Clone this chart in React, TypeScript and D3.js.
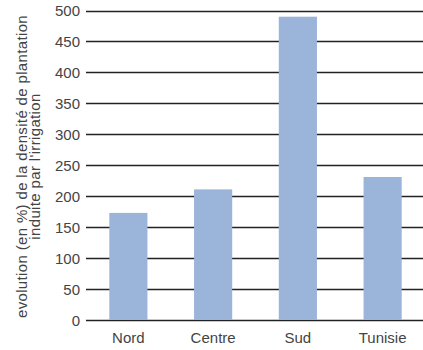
import React, { useEffect, useRef } from "react";
import * as d3 from "d3";

const regions = ["Nord", "Centre", "Sud", "Tunisie"];
const densityGain = [173, 211, 490, 231];
const yTicks = [0, 50, 100, 150, 200, 250, 300, 350, 400, 450, 500];
const titleLines = [
  "evolution (en %) de la densité de plantation",
  "induite par l'irrigation",
];

export default function App() {
  const ref = useRef<SVGSVGElement | null>(null);

  useEffect(() => {
    if (!ref.current) return;
    const svg = d3.select(ref.current);
    svg.selectAll("*").remove();

    const x = d3.scaleBand<string>().domain(regions).range([86, 425]).paddingInner(0.55).paddingOuter(0.275);
    const y = d3.scaleLinear().domain([0, 500]).range([320, 10.5]);

    // grid lines
    svg
      .append("g")
      .selectAll("line")
      .data(yTicks)
      .enter()
      .append("line")
      .attr("x1", 86)
      .attr("x2", 423)
      .attr("y1", (d) => Math.round(y(d)) + 0.5)
      .attr("y2", (d) => Math.round(y(d)) + 0.5)
      .attr("stroke", "#222")
      .attr("stroke-width", 1.3);

    // tick labels
    svg
      .append("g")
      .selectAll("text")
      .data(yTicks)
      .enter()
      .append("text")
      .attr("x", 80)
      .attr("y", (d) => y(d))
      .attr("dy", "0.38em")
      .attr("text-anchor", "end")
      .attr("font-size", 15)
      .attr("fill", "#444")
      .text((d) => d);

    // bars
    svg
      .append("g")
      .selectAll("rect")
      .data(densityGain)
      .enter()
      .append("rect")
      .attr("x", (d, i) => x(regions[i])!)
      .attr("width", x.bandwidth())
      .attr("y", (d) => y(d))
      .attr("height", (d) => y(0) - y(d))
      .attr("fill", "#9bb4da");

    // category labels
    svg
      .append("g")
      .selectAll("text")
      .data(regions)
      .enter()
      .append("text")
      .attr("x", (d) => x(d)! + x.bandwidth() / 2)
      .attr("y", 343)
      .attr("text-anchor", "middle")
      .attr("font-size", 15)
      .attr("fill", "#444")
      .text((d) => d);

    // axis title
    const title = svg
      .append("text")
      .attr("transform", "translate(27,166.5) rotate(-90)")
      .attr("text-anchor", "middle")
      .attr("font-size", 15)
      .attr("letter-spacing", 0.35)
      .attr("fill", "#444");
    title
      .selectAll("tspan")
      .data(titleLines)
      .enter()
      .append("tspan")
      .attr("x", 0)
      .attr("dy", (d, i) => (i === 0 ? 0 : 12.5))
      .text((d) => d);
  });

  return (
    <svg
      ref={ref}
      width={423}
      height={350}
      style={{ position: "absolute", left: 0, top: 0, fontFamily: "'Liberation Sans', Arial, sans-serif" }}
    />
  );
}
